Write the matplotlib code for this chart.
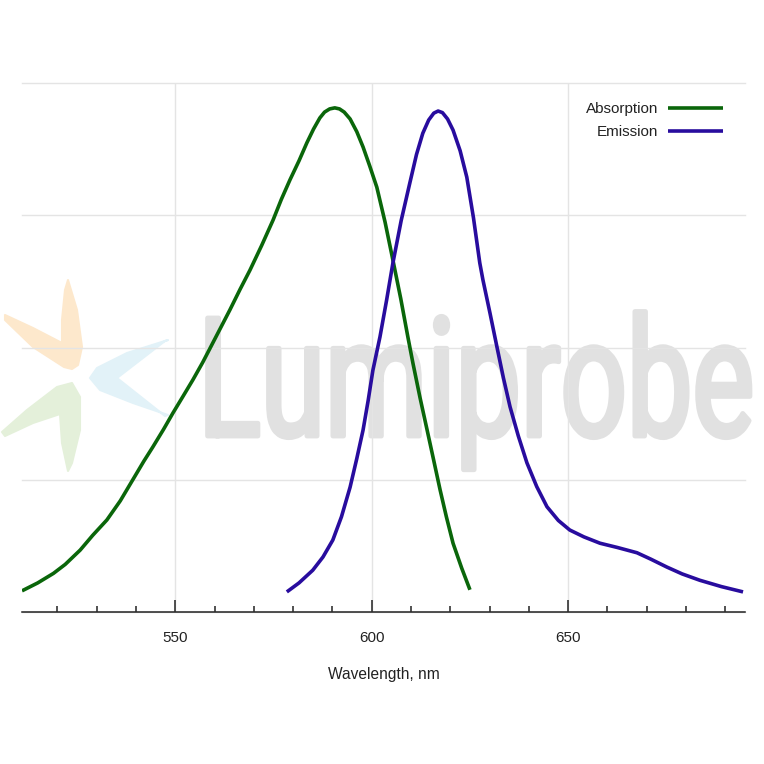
import matplotlib
matplotlib.use("Agg")
import matplotlib.pyplot as plt
from matplotlib import font_manager as fm
from matplotlib.patches import Polygon
from matplotlib.patheffects import AbstractPathEffect
from matplotlib.transforms import Affine2D
from matplotlib.ticker import MultipleLocator

# ---- data ----
abs_nm = [511.0, 515, 519, 522, 525.8, 529, 532.6, 536, 539.2, 542, 544.3, 547, 549.4,
          552, 554.5, 557, 560, 563.9, 566.5, 569, 572, 574.9, 577, 579.2, 581.5, 583.5,
          585.2, 586.8, 588.0, 589.3, 590.6, 591.8, 593.0, 594.5, 596.2, 597.8, 599.5,
          601.3, 603.4, 605.4, 607.4, 609.2, 610.5, 612.3, 614.1, 615.8, 617.4, 619,
          620.7, 622.9, 625]
abs_val = [0.040, 0.055, 0.073, 0.090, 0.117, 0.145, 0.174, 0.210, 0.250, 0.285, 0.312,
           0.345, 0.376, 0.408, 0.439, 0.472, 0.515, 0.571, 0.610, 0.646, 0.693, 0.741,
           0.780, 0.817, 0.853, 0.887, 0.913, 0.934, 0.945, 0.951, 0.953, 0.951, 0.945,
           0.932, 0.908, 0.879, 0.843, 0.803, 0.737, 0.665, 0.592, 0.520, 0.470, 0.405,
           0.344, 0.286, 0.231, 0.180, 0.130, 0.083, 0.042]

em_nm = [578.4, 581.5, 585, 587.6, 590.1, 592.3, 594.5, 596.2, 597.8, 599.1, 600.3, 602.1,
         603.8, 605.4, 607.5, 609.7, 611.4, 613, 614.5, 615.8, 616.9, 618.0, 619.3, 620.7,
         622.5, 624.2, 625.9, 627.5, 628.3, 630.1, 631.9, 633.5, 635.2, 637.3, 639.5, 642,
         644.6, 647.5, 650.4, 654, 658.1, 662.5, 667.5, 671, 675.1, 679, 683.5, 689, 694.5]
em_val = [0.038, 0.055, 0.079, 0.104, 0.136, 0.180, 0.236, 0.290, 0.344, 0.400, 0.457,
          0.520, 0.590, 0.660, 0.740, 0.811, 0.865, 0.905, 0.930, 0.943, 0.947, 0.944,
          0.932, 0.911, 0.872, 0.822, 0.745, 0.660, 0.628, 0.565, 0.500, 0.443, 0.388,
          0.333, 0.282, 0.237, 0.199, 0.173, 0.155, 0.142, 0.130, 0.122, 0.112, 0.100,
          0.085, 0.072, 0.060, 0.048, 0.038]

series_labels = ["Absorption", "Emission"]
x_label = "Wavelength, nm"
watermark = "Lumiprobe"

W = H = 764
fig = plt.figure(figsize=(7.64, 7.64), dpi=100)
ax = fig.add_axes([22 / W, 1 - 612 / H, (745 - 22) / W, (612 - 83) / H])
ax.patch.set_alpha(0)

base_font = "Liberation Sans"
txt_col = "#222222"

ax.plot(abs_nm, abs_val, color="#0a660a", lw=2.6, label=series_labels[0],
        solid_capstyle="butt", solid_joinstyle="round", zorder=3)
ax.plot(em_nm, em_val, color="#280c9e", lw=2.6, label=series_labels[1],
        solid_capstyle="butt", solid_joinstyle="round", zorder=3)

ax.set_xlim(511, 695)
ax.set_ylim(0, 1.0)
ax.xaxis.set_major_locator(MultipleLocator(50))
ax.xaxis.set_minor_locator(MultipleLocator(10))
ax.yaxis.set_major_locator(MultipleLocator(0.25))
ax.grid(True, which="major", color="#e4e4e4", lw=1.0)
ax.set_axisbelow(True)
for g in ax.yaxis.get_gridlines():
    g.set_clip_on(False)
for s in ["top", "right", "left"]:
    ax.spines[s].set_visible(False)
ax.spines["bottom"].set_color(txt_col)
ax.spines["bottom"].set_linewidth(1.1)
ax.tick_params(axis="y", left=False, labelleft=False)
ax.tick_params(axis="x", which="major", direction="in", length=9, width=1.1,
               color=txt_col, pad=13.5, labelsize=11, labelcolor=txt_col)
ax.tick_params(axis="x", which="minor", direction="in", length=4.5, width=1.1,
               color=txt_col)
for lab in ax.get_xticklabels():
    lab.set_fontfamily(base_font)
ax.set_xlabel(x_label, fontsize=11.2, family=base_font, labelpad=16, color=txt_col)

leg = ax.legend(loc="upper right", bbox_to_anchor=(0.9695, 0.964), frameon=False,
                markerfirst=False, handlelength=3.6, handletextpad=0.65,
                labelspacing=0.6, borderpad=0, borderaxespad=0,
                prop={"family": base_font, "size": 11})
for t in leg.get_texts():
    t.set_color(txt_col)


# ---- watermark ----
class Stretch(AbstractPathEffect):
    def __init__(self, sx=1.0, sy=1.0, stroke=0.0):
        super().__init__()
        self.sx, self.sy, self.stroke = sx, sy, stroke

    def draw_path(self, renderer, gc, tpath, affine, rgbFace=None):
        gc0 = renderer.new_gc()
        gc0.copy_properties(gc)
        gc0.set_linewidth(self.stroke)
        gc0.set_joinstyle("round")
        if rgbFace is not None:
            gc0.set_foreground(rgbFace)
        renderer.draw_path(gc0, tpath, Affine2D().scale(self.sx, self.sy) + affine, rgbFace)
        gc0.restore()


def pick_font(cands):
    for c in cands:
        try:
            fm.findfont(fm.FontProperties(family=c), fallback_to_default=False)
            return c
        except Exception:
            pass
    return "DejaVu Sans"


wm_font = pick_font(["Roboto", "Liberation Sans"])
wm = ax.text(198 / W, 1 - 436 / H, watermark, transform=fig.transFigure,
             fontsize=100, family=wm_font, weight="normal", color="#e1e1e1",
             ha="left", va="baseline", zorder=0.1, clip_on=False)
fig.canvas.draw()
ext = wm.get_window_extent(fig.canvas.get_renderer())
fs = 100 * (556 / ext.width)
wm.set_fontsize(fs)
cap_px = 0.711 * fs * 100 / 72.0
wm.set_path_effects([Stretch(1.0, 118.0 / cap_px, stroke=3.5)])


def fpoly(pts, color):
    p = Polygon([(x / W, 1 - y / H) for x, y in pts], closed=True, transform=fig.transFigure,
                facecolor=color, edgecolor=color, lw=1.5, joinstyle="round",
                zorder=0.1, clip_on=False)
    ax.add_artist(p)


fpoly([(68, 280), (77, 310), (82, 347), (78, 365), (72, 369), (64, 367), (33, 347),
       (5, 320), (5, 315), (33, 328), (62, 343), (62, 320), (65, 290)], "#fde8cc")
fpoly([(168, 340), (127, 353), (97, 368), (90, 378), (100, 390), (133, 403), (168, 415),
       (165, 416), (117, 378), (165, 341)], "#e2f2f8")
fpoly([(72, 383), (80, 397), (80, 430), (72, 463), (68, 471), (62, 443), (60, 414),
       (33, 423), (5, 436), (2, 432), (27, 410), (57, 387)], "#e4f0da")

fig.savefig("out.png", dpi=100)
